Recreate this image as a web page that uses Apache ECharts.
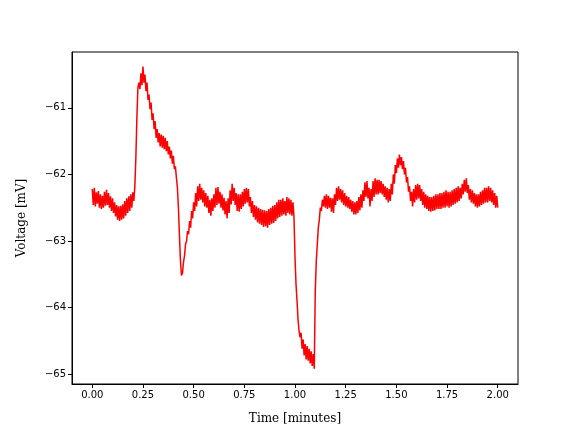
<!DOCTYPE html>
<html>
<head>
<meta charset="utf-8">
<script src="https://cdn.jsdelivr.net/npm/echarts@6/dist/echarts.min.js"></script>
<style>html,body{margin:0;padding:0;background:#fff}#c{width:576px;height:432px}</style>
</head>
<body>
<div id="c"></div>
<script>
const timeMinutes = [
0.000,0.005,0.010,0.015,0.020,0.025,0.030,0.035,0.040,0.045,0.050,0.055,0.060,0.065,0.070,0.075,0.080,0.085,0.090,0.095,
0.100,0.105,0.110,0.115,0.120,0.125,0.130,0.135,0.140,0.145,0.150,0.155,0.160,0.165,0.170,0.175,0.180,0.185,0.190,0.195,
0.200,0.205,0.210,0.215,0.220,0.225,0.230,0.235,0.240,0.245,0.250,0.255,0.260,0.265,0.270,0.275,0.280,0.285,0.290,0.295,
0.300,0.305,0.310,0.315,0.320,0.325,0.330,0.335,0.340,0.345,0.350,0.355,0.360,0.365,0.370,0.375,0.380,0.385,0.390,0.395,
0.400,0.405,0.410,0.415,0.420,0.425,0.430,0.435,0.440,0.445,0.450,0.455,0.460,0.465,0.470,0.475,0.480,0.485,0.490,0.495,
0.500,0.505,0.510,0.515,0.520,0.525,0.530,0.535,0.540,0.545,0.550,0.555,0.560,0.565,0.570,0.575,0.580,0.585,0.590,0.595,
0.600,0.605,0.610,0.615,0.620,0.625,0.630,0.635,0.640,0.645,0.650,0.655,0.660,0.665,0.670,0.675,0.680,0.685,0.690,0.695,
0.700,0.705,0.710,0.715,0.720,0.725,0.730,0.735,0.740,0.745,0.750,0.755,0.760,0.765,0.770,0.775,0.780,0.785,0.790,0.795,
0.800,0.805,0.810,0.815,0.820,0.825,0.830,0.835,0.840,0.845,0.850,0.855,0.860,0.865,0.870,0.875,0.880,0.885,0.890,0.895,
0.900,0.905,0.910,0.915,0.920,0.925,0.930,0.935,0.940,0.945,0.950,0.955,0.960,0.965,0.970,0.975,0.980,0.985,0.990,0.995,
1.000,1.005,1.010,1.015,1.020,1.025,1.030,1.035,1.040,1.045,1.050,1.055,1.060,1.065,1.070,1.075,1.080,1.085,1.090,1.095,
1.100,1.105,1.110,1.115,1.120,1.125,1.130,1.135,1.140,1.145,1.150,1.155,1.160,1.165,1.170,1.175,1.180,1.185,1.190,1.195,
1.200,1.205,1.210,1.215,1.220,1.225,1.230,1.235,1.240,1.245,1.250,1.255,1.260,1.265,1.270,1.275,1.280,1.285,1.290,1.295,
1.300,1.305,1.310,1.315,1.320,1.325,1.330,1.335,1.340,1.345,1.350,1.355,1.360,1.365,1.370,1.375,1.380,1.385,1.390,1.395,
1.400,1.405,1.410,1.415,1.420,1.425,1.430,1.435,1.440,1.445,1.450,1.455,1.460,1.465,1.470,1.475,1.480,1.485,1.490,1.495,
1.500,1.505,1.510,1.515,1.520,1.525,1.530,1.535,1.540,1.545,1.550,1.555,1.560,1.565,1.570,1.575,1.580,1.585,1.590,1.595,
1.600,1.605,1.610,1.615,1.620,1.625,1.630,1.635,1.640,1.645,1.650,1.655,1.660,1.665,1.670,1.675,1.680,1.685,1.690,1.695,
1.700,1.705,1.710,1.715,1.720,1.725,1.730,1.735,1.740,1.745,1.750,1.755,1.760,1.765,1.770,1.775,1.780,1.785,1.790,1.795,
1.800,1.805,1.810,1.815,1.820,1.825,1.830,1.835,1.840,1.845,1.850,1.855,1.860,1.865,1.870,1.875,1.880,1.885,1.890,1.895,
1.900,1.905,1.910,1.915,1.920,1.925,1.930,1.935,1.940,1.945,1.950,1.955,1.960,1.965,1.970,1.975,1.980,1.985,1.990,1.995,
2.000];
const voltageMv = [
-62.22,-62.46,-62.20,-62.48,-62.27,-62.44,-62.25,-62.50,-62.30,-62.52,-62.32,-62.50,-62.26,-62.47,-62.23,-62.46,-62.28,-62.50,-62.33,-62.55,
-62.36,-62.58,-62.42,-62.63,-62.46,-62.68,-62.48,-62.70,-62.47,-62.68,-62.45,-62.66,-62.40,-62.62,-62.36,-62.58,-62.33,-62.55,-62.30,-62.50,
-62.27,-62.40,-62.18,-61.75,-61.15,-60.70,-60.62,-60.72,-60.48,-60.66,-60.38,-60.62,-60.50,-60.75,-60.62,-60.88,-60.80,-61.02,-60.92,-61.18,
-61.08,-61.32,-61.20,-61.45,-61.32,-61.52,-61.38,-61.58,-61.40,-61.60,-61.42,-61.62,-61.45,-61.65,-61.50,-61.70,-61.58,-61.76,-61.64,-61.84,
-61.72,-61.92,-61.88,-62.05,-62.20,-62.50,-62.92,-63.30,-63.52,-63.48,-63.32,-63.22,-63.05,-63.00,-62.85,-62.90,-62.70,-62.80,-62.55,-62.66,
-62.42,-62.55,-62.28,-62.48,-62.18,-62.40,-62.14,-62.38,-62.20,-62.42,-62.24,-62.48,-62.28,-62.50,-62.32,-62.58,-62.38,-62.62,-62.36,-62.55,
-62.30,-62.50,-62.20,-62.46,-62.19,-62.44,-62.26,-62.50,-62.30,-62.54,-62.35,-62.60,-62.40,-62.66,-62.36,-62.58,-62.24,-62.45,-62.14,-62.40,
-62.20,-62.46,-62.28,-62.55,-62.30,-62.56,-62.30,-62.52,-62.26,-62.48,-62.22,-62.44,-62.20,-62.42,-62.22,-62.48,-62.34,-62.58,-62.40,-62.64,
-62.46,-62.68,-62.48,-62.72,-62.50,-62.74,-62.52,-62.76,-62.53,-62.79,-62.54,-62.78,-62.55,-62.80,-62.52,-62.76,-62.50,-62.74,-62.47,-62.73,
-62.46,-62.70,-62.42,-62.66,-62.38,-62.64,-62.38,-62.62,-62.36,-62.60,-62.40,-62.62,-62.34,-62.58,-62.36,-62.60,-62.38,-62.62,-62.42,-62.64,
-63.24,-63.65,-63.90,-64.18,-64.35,-64.45,-64.38,-64.62,-64.48,-64.72,-64.55,-64.78,-64.58,-64.80,-64.62,-64.84,-64.66,-64.88,-64.70,-64.92,
-63.75,-63.30,-63.05,-62.80,-62.68,-62.50,-62.55,-62.38,-62.48,-62.32,-62.50,-62.30,-62.52,-62.32,-62.50,-62.35,-62.56,-62.36,-62.58,-62.30,
-62.46,-62.20,-62.40,-62.18,-62.38,-62.22,-62.42,-62.24,-62.46,-62.28,-62.48,-62.32,-62.50,-62.34,-62.52,-62.38,-62.56,-62.40,-62.60,-62.42,
-62.60,-62.40,-62.58,-62.34,-62.54,-62.30,-62.50,-62.24,-62.40,-62.12,-62.34,-62.10,-62.36,-62.20,-62.48,-62.22,-62.40,-62.10,-62.34,-62.06,
-62.30,-62.08,-62.30,-62.08,-62.28,-62.10,-62.30,-62.14,-62.34,-62.18,-62.38,-62.20,-62.42,-62.22,-62.40,-62.14,-62.30,-62.00,-62.14,-61.86,
-61.98,-61.76,-61.90,-61.70,-61.86,-61.74,-61.92,-61.80,-62.00,-61.90,-62.12,-62.04,-62.26,-62.18,-62.40,-62.26,-62.48,-62.22,-62.42,-62.16,
-62.38,-62.14,-62.36,-62.16,-62.40,-62.22,-62.46,-62.26,-62.50,-62.30,-62.52,-62.32,-62.55,-62.34,-62.56,-62.34,-62.55,-62.32,-62.54,-62.30,
-62.52,-62.30,-62.52,-62.28,-62.52,-62.28,-62.50,-62.26,-62.50,-62.24,-62.48,-62.26,-62.50,-62.26,-62.48,-62.24,-62.46,-62.22,-62.44,-62.20,
-62.42,-62.18,-62.40,-62.20,-62.36,-62.14,-62.30,-62.08,-62.26,-62.06,-62.28,-62.16,-62.38,-62.22,-62.42,-62.24,-62.44,-62.28,-62.48,-62.30,
-62.50,-62.30,-62.48,-62.26,-62.46,-62.24,-62.44,-62.20,-62.42,-62.20,-62.42,-62.18,-62.40,-62.20,-62.42,-62.24,-62.46,-62.28,-62.50,-62.32,
-62.50];
const xTickValues = [0, 0.25, 0.5, 0.75, 1.0, 1.25, 1.5, 1.75, 2.0];
const yTickValues = [-65, -64, -63, -62, -61];
const xLabel = 'Time [minutes]';
const yLabel = 'Voltage [mV]';

const pts = timeMinutes.map((t, i) => [t, voltageMv[i]]);
const chart = echarts.init(document.getElementById('c'), null, {renderer: 'canvas'});
const tickFont = {fontFamily: 'DejaVu Sans', fontSize: 10, color: '#000'};
const nameFont = {fontFamily: 'DejaVu Serif', fontSize: 12, color: '#000'};
chart.setOption({
  animation: false,
  backgroundColor: '#fff',
  grid: {left: 72, right: 58, top: 52, bottom: 48, show: true, borderColor: '#000', borderWidth: 1, backgroundColor: 'transparent'},
  xAxis: {
    type: 'value', min: -0.1, max: 2.1,
    name: xLabel, nameLocation: 'middle', nameGap: 29,
    nameTextStyle: nameFont,
    axisLine: {show: true, onZero: false, lineStyle: {color: '#000', width: 1}},
    axisTick: {show: true, inside: false, length: 4, lineStyle: {color: '#000'}, customValues: xTickValues},
    axisLabel: Object.assign({margin: 6, customValues: xTickValues, formatter: v => v.toFixed(2)}, tickFont),
    splitLine: {show: false}
  },
  yAxis: {
    type: 'value', min: -65.15, max: -60.16,
    name: yLabel, nameLocation: 'middle', nameGap: 44,
    nameTextStyle: nameFont,
    axisLine: {show: true, onZero: false, lineStyle: {color: '#000', width: 1}},
    axisTick: {show: true, inside: false, length: 4, lineStyle: {color: '#000'}, customValues: yTickValues},
    axisLabel: Object.assign({margin: 6, customValues: yTickValues, formatter: v => String(v).replace('-', '\u2212')}, tickFont),
    splitLine: {show: false}
  },
  series: [{
    type: 'line', data: pts, showSymbol: false, symbol: 'none', sampling: null,
    lineStyle: {color: '#ff0000', width: 1.5}, clip: true
  }]
});
</script>
</body>
</html>
